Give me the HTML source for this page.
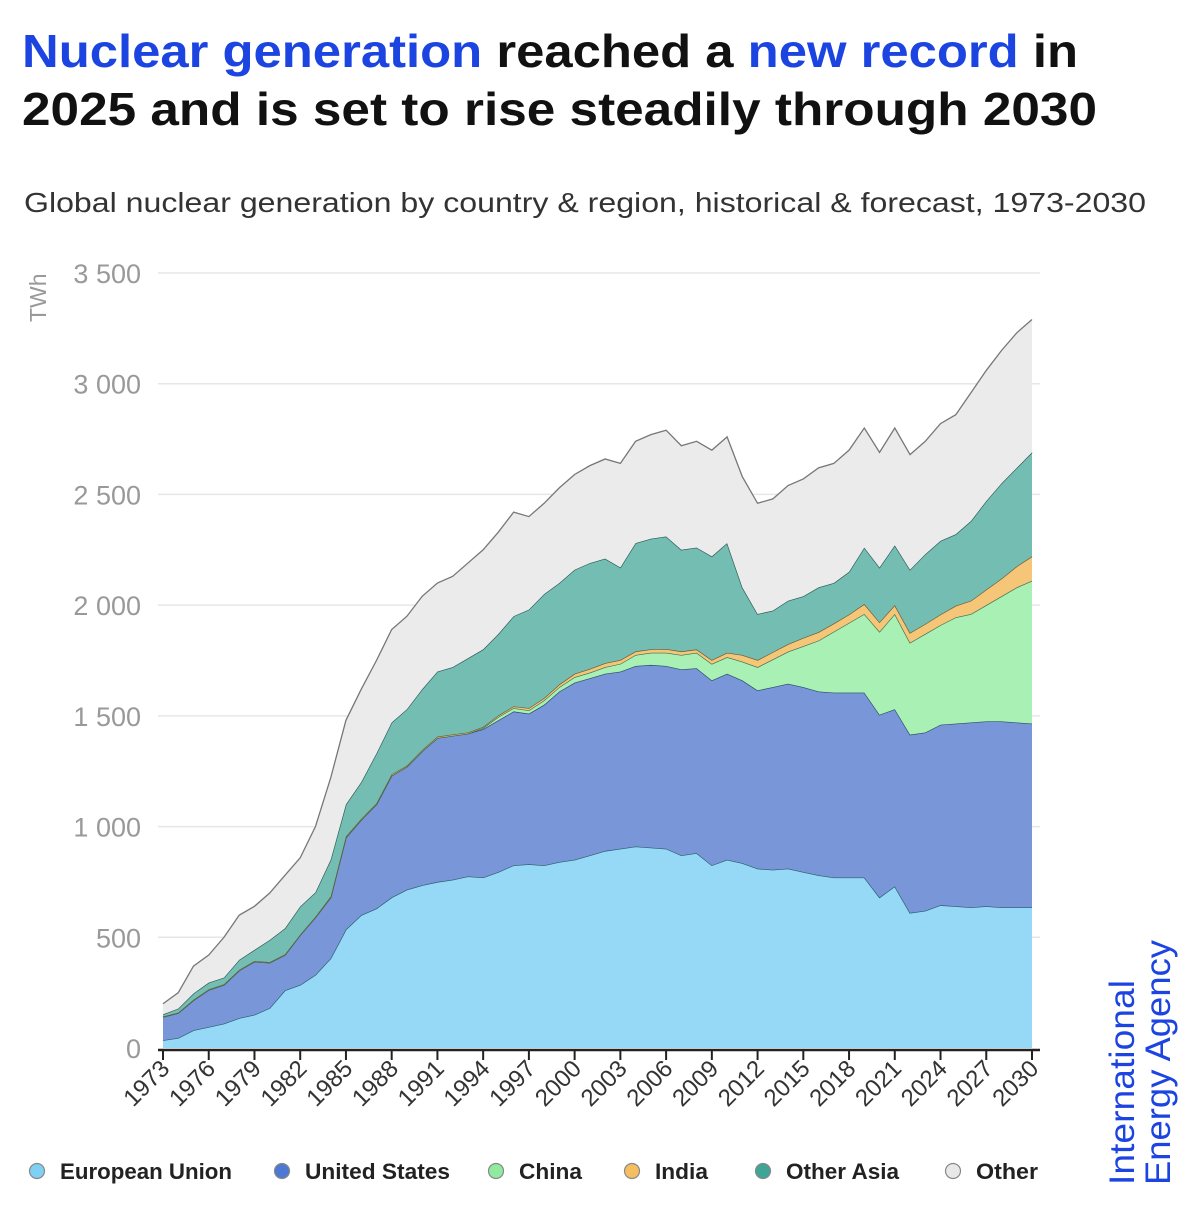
<!DOCTYPE html>
<html><head><meta charset="utf-8"><style>
body{margin:0;background:#fff;width:1191px;height:1200px;overflow:hidden;font-family:"Liberation Sans",sans-serif}
</style></head><body>
<svg id="chart" width="1191" height="1200" xmlns="http://www.w3.org/2000/svg" font-family="Liberation Sans, sans-serif">
<text x="22" y="67" font-size="46" font-weight="bold" fill="#111" textLength="1056" lengthAdjust="spacingAndGlyphs"><tspan fill="#1c44e0">Nuclear generation</tspan> reached a <tspan fill="#1c44e0">new record</tspan> in</text>
<text x="22" y="125" font-size="46" font-weight="bold" fill="#111" textLength="1075" lengthAdjust="spacingAndGlyphs">2025 and is set to rise steadily through 2030</text>
<text x="24" y="212" font-size="28" fill="#333" textLength="1122" lengthAdjust="spacingAndGlyphs">Global nuclear generation by country &amp; region, historical &amp; forecast, 1973-2030</text>
<text transform="translate(46,322) rotate(-90)" font-size="23" fill="#999">TWh</text>
<g id="grid"></g><g id="areas"></g><g id="axes"></g>
<g id="legend"></g>
<text transform="translate(1134,1185) rotate(-90)" font-size="35" fill="#1c44e0" textLength="205" lengthAdjust="spacingAndGlyphs">International</text>
<text transform="translate(1170,1185) rotate(-90)" font-size="35" fill="#1c44e0" textLength="245" lengthAdjust="spacingAndGlyphs">Energy Agency</text>
</svg>
<script>
const years = [];for(let y=1973;y<=2030;y++)years.push(y);
const euValues = [35,45,80,95,110,135,150,180,260,285,330,405,535,600,630,680,715,735,750,760,775,770,795,825,830,825,840,850,870,890,900,910,905,900,870,880,825,850,835,810,805,810,795,780,770,770,770,680,730,610,620,645,640,635,640,635,635,635];
const usValues = [105,113,135,167,175,215,240,205,160,225,260,275,415,430,470,550,555,605,650,650,645,670,685,695,680,725,770,800,800,800,800,815,825,825,840,835,835,840,825,805,825,835,835,830,835,835,835,825,800,805,805,815,825,835,835,840,835,830];
const chinaValues = [0,0,0,0,0,0,0,0,0,0,0,0,0,0,0,0,0,0,0,0,0,5,15,15,15,20,20,25,25,30,35,50,55,60,65,70,75,75,85,105,125,145,185,230,275,315,355,375,430,415,445,450,480,490,525,565,610,645];
const indiaValues = [2,2,3,3,3,3,3,3,3,2,3,4,5,5,5,6,5,6,6,6,5,5,7,8,10,10,12,15,17,18,17,16,16,17,16,15,17,20,30,32,33,34,37,38,37,38,45,43,40,45,45,48,52,60,70,80,95,110];
const otherAsiaValues = [10,18,28,30,30,45,50,100,117,127,110,166,145,165,225,234,255,274,294,304,335,350,368,407,445,470,458,470,478,472,418,489,499,508,459,460,468,495,305,208,187,196,188,202,183,192,255,247,270,285,315,332,323,360,400,430,445,470];
const otherValues = [48,72,124,125,182,202,197,212,240,220,297,370,380,420,420,420,420,420,400,410,430,450,460,470,420,410,430,430,440,450,470,460,470,480,470,480,480,480,500,500,505,520,530,540,540,550,540,520,530,520,510,530,540,580,590,600,610,600];
const yTicks = [0,500,1000,1500,2000,2500,3000,3500];
const yTickLabels = ["0","500","1 000","1 500","2 000","2 500","3 000","3 500"];
const seriesNames = ["European Union","United States","China","India","Other Asia","Other"];

const NS="http://www.w3.org/2000/svg";
const X0=163,X1=1032,Y0=1048,Y1=273;
const xs=y=>X0+(y-1973)*(X1-X0)/(2030-1973);
const ys=v=>Y0-v*(Y0-Y1)/3500;
function mk(tag,attrs,parent){const e=document.createElementNS(NS,tag);for(const k in attrs)e.setAttribute(k,attrs[k]);parent.appendChild(e);return e;}
const grid=document.getElementById('grid'),areas=document.getElementById('areas'),axes=document.getElementById('axes'),legend=document.getElementById('legend');
yTicks.forEach((t,i)=>{
  if(t>0){const l=mk('line',{x1:158,x2:1040,y1:ys(t),y2:ys(t),stroke:'#e6e6e6','stroke-width':1.5},grid);
  
  }
  const tx=mk('text',{x:141,y:ys(t)+10,'text-anchor':'end','font-size':27,fill:'#999'},grid);
  tx.textContent=yTickLabels[i];
  
  
});
const series=[euValues,usValues,chinaValues,indiaValues,otherAsiaValues,otherValues];
const fills=['#95d9f7','#7896d8','#a8f0b4','#f5c678','#74bdb2','#ebebeb'];
const strokes=['#2c5c6a','#2c4a6a','#3c6a50','#6a5a30','#2c5a55','#777'];
const keys=['european-union','united-states','china','india','other-asia','other'];
let base=years.map(()=>0);
series.forEach((s,si)=>{
  const top=base.map((b,i)=>b+s[i]);
  let d='M'+years.map((y,i)=>xs(y)+','+ys(top[i])).join('L');
  for(let i=years.length-1;i>=0;i--)d+='L'+xs(years[i])+','+ys(base[i]);
  d+='Z';
  const p=mk('path',{d:d,fill:fills[si]},areas);
  
  
  const ln=mk('path',{d:'M'+years.map((y,i)=>xs(y)+','+ys(top[i])).join('L'),fill:'none',stroke:strokes[si],'stroke-width':1.3},areas);
  
  
  base=top;
});
const ax=mk('line',{x1:158,x2:1040,y1:Y0+2,y2:Y0+2,stroke:'#222','stroke-width':2.5},axes);


years.forEach(y=>{
  if((y-1973)%3!==0)return;
  const t=mk('line',{x1:xs(y),x2:xs(y),y1:Y0+2,y2:Y0+12,stroke:'#222','stroke-width':2},axes);
  
  
  const tx=mk('text',{transform:'translate('+(xs(y)+8)+','+(Y0+22)+') rotate(-45)','text-anchor':'end','font-size':24,fill:'#333'},axes);
  tx.textContent=y;
  
  
});
const lx=[37,282,496,632,763,953];
const lw=[172,145,63,53,113,62];
const mfill=['#7fd0f2','#4d78d4','#90eaa0','#f5be60','#3fa596','#e8e8e8'];
seriesNames.forEach((n,i)=>{
  const c=mk('circle',{cx:lx[i],cy:1171,r:7.5,fill:mfill[i],stroke:'#888','stroke-width':1.2},legend);
  
  
  const t=mk('text',{x:lx[i]+23,y:1179,'font-size':22,'font-weight':'bold',fill:'#222',textLength:lw[i],lengthAdjust:'spacingAndGlyphs'},legend);
  t.textContent=n;
  
  
});
</script>
</body></html>
